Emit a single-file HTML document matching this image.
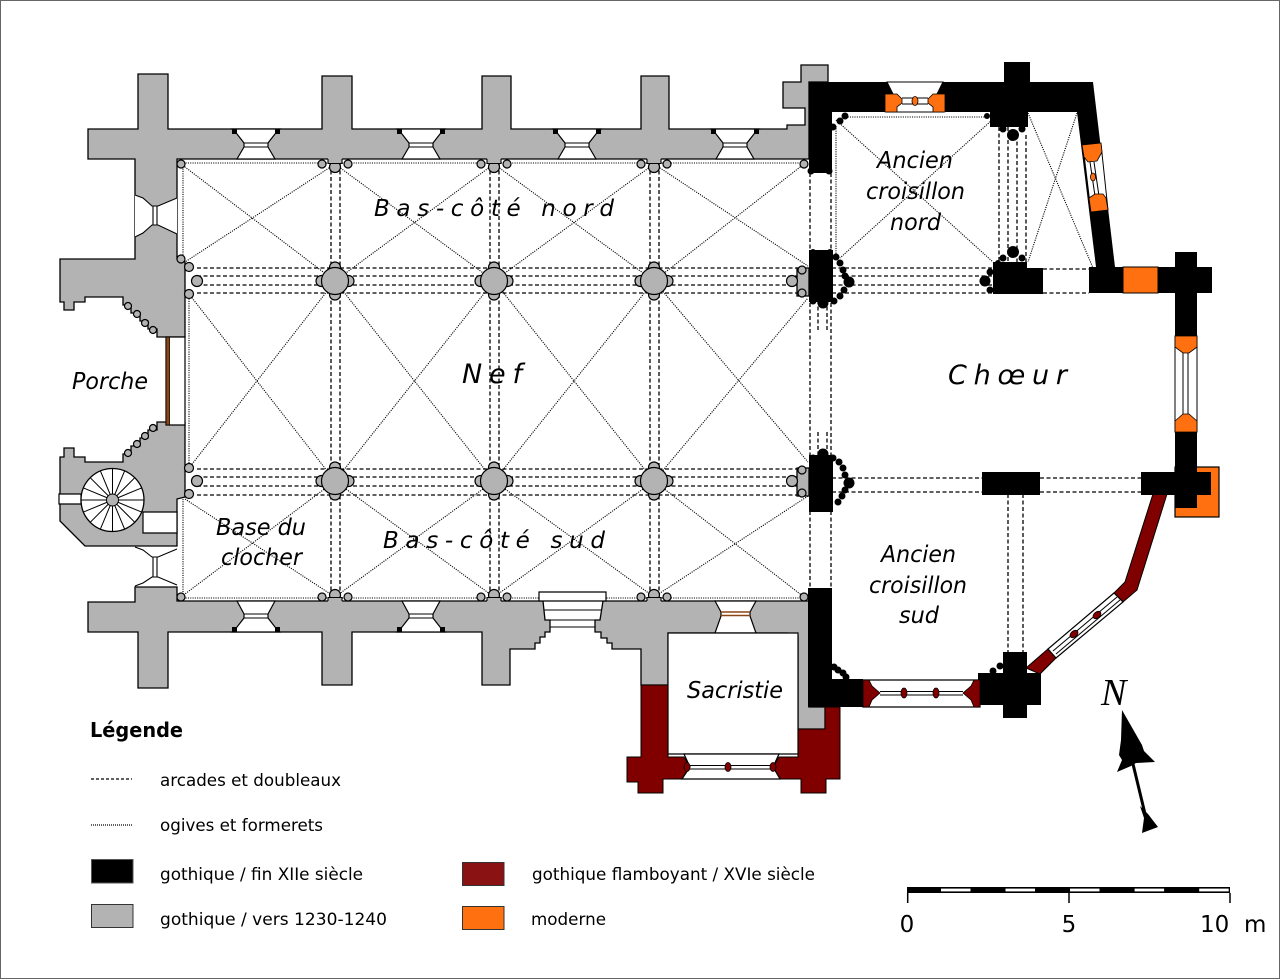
<!DOCTYPE html>
<html><head><meta charset="utf-8"><style>html,body{margin:0;padding:0;background:#fff}svg{display:block}</style></head>
<body>
<svg width="1280" height="979" viewBox="0 0 1280 979" xmlns="http://www.w3.org/2000/svg">
<rect x="0.5" y="0.5" width="1279" height="978" fill="#fff" stroke="#666" stroke-width="1"/>

<path fill="none" stroke="#000" stroke-width="1.1" stroke-dasharray="1.1 1.2" d="
M181,164 L335,281 M335,164 L185,262
M335,164 L494,281 M494,164 L335,281
M494,164 L654,281 M654,164 L494,281
M654,164 L808,266 M804,164 L654,281
M189,294 L335,481 M189,468 L335,281
M335,281 L494,481 M335,481 L494,281
M494,281 L654,481 M494,481 L654,281
M654,281 L808,462 M654,481 L808,298
M185,499 L335,597 M335,481 L181,597
M335,481 L494,597 M494,481 L335,597
M494,481 L654,597 M654,481 L494,597
M654,481 L804,597 M808,496 L654,597
M181,163 L808,163 M181,598 L808,598 M183,164 L183,259 M189,294 L189,468 M183,499 L183,597
M836,120 L993,262 M992,120 L840,258 M843,117 L988,117 M836,126 L836,258
M1028,113 L1093,268 M1077,113 L1028,262"/>

<path fill="none" stroke="#000" stroke-width="1.3" stroke-dasharray="4 2.5" d="
M197,268 L797,268 M197,276 L797,276 M197,285 L797,285 M197,293 L797,293
M197,469 L797,469 M197,477 L797,477 M197,486 L797,486 M197,495 L797,495
M331,164 L331,597 M340,164 L340,597 M490,164 L490,597 M499,164 L499,597 M650,164 L650,597 M659,164 L659,597
M810,160 L810,597 M831,160 L831,597
M818,300 L818,330 M827,300 L827,330 M818,432 L818,462 M827,432 L827,462
M832,268 L993,268 M832,276 L993,276 M832,285 L993,285 M832,293 L993,293
M1043,269 L1089,269 M1043,293 L1089,293
M832,478 L982,478 M832,492 L982,492 M1040,478 L1141,478 M1040,492 L1141,492
M999,127 L999,262 M1008,127 L1008,262 M1017,135 L1017,262 M1026,135 L1026,262
M1008,494 L1008,652 M1023,494 L1023,652"/>

<g fill="#b3b3b3" stroke="#000" stroke-width="1.3" stroke-linejoin="miter">
<path d="M88,129 L138,129 L138,74 L168,74 L168,129 L322,129 L322,76 L352,76 L352,129 L482,129 L482,76 L511,76 L511,129 L641,129 L641,76 L669,76 L669,129 L787,129 L787,125 L805,125 L805,108 L783,108 L783,82 L801,82 L801,65 L828,65 L828,82 L809,82 L809,159 L177,159 L177,259 L185,262 L185,337 L157,337 L157,329 L148,329 L148,321 L140,321 L140,313 L131,313 L131,305 L123,305 L123,297 L85,297 L85,302 L74,302 L74,310 L64,310 L64,302 L60,302 L60,259 L135,259 L135,159 L88,159 Z"/>
<path d="M165,422 L185,422 L185,497 L177,499 L177,546 L85,546 L60,521 L60,457 L64,457 L64,448 L74,448 L74,457 L85,457 L85,462 L123,462 L123,454 L131,454 L131,446 L140,446 L140,438 L148,438 L148,430 L157,430 L157,422 Z"/>
<path d="M177,601 L543,601 L545,620 L550,620 L550,632 L545,632 L545,637 L540,637 L540,643 L535,643 L535,649 L510,649 L510,685 L482,685 L482,632 L352,632 L352,685 L322,685 L322,632 L168,632 L168,688 L138,688 L138,632 L88,632 L88,602 L135,602 L135,587 L177,587 Z"/>
<path d="M603,601 L809,601 L809,707 L825,707 L825,729 L798,729 L798,636 L787,636 L787,633 L668,633 L668,685 L641,685 L641,649 L612,649 L612,643 L607,643 L607,638 L601,638 L601,632 L595,632 L595,620 L600,620 Z"/>
<rect x="797" y="268" width="12" height="28"/>
<rect x="797" y="468" width="12" height="28"/>
</g>

<g fill="#800000" stroke="#000" stroke-width="1">
<path d="M641,685 L668,685 L668,757 L684,757 L690,767 L682,779 L663,779 L663,793 L638,793 L638,782 L627,782 L627,757 L641,757 Z"/>
<path d="M825,707 L840,707 L840,779 L826,779 L826,793 L801,793 L801,779 L780,779 L773,767 L779,757 L798,757 L798,729 L825,729 Z"/>
<path d="M1153,494 L1167,494 L1137,590 L1123,602 L1114,593 L1125,582 Z"/>
<path d="M1026,668 L1048,649 L1056,658 L1040,674 Z"/>
</g>

<rect x="1175" y="467" width="44" height="50" fill="#ff7010" stroke="#000" stroke-width="1.2"/>

<g fill="#000">
<path d="M809,82 L1004,82 L1004,62 L1030,62 L1030,82 L1093,82 L1115,267 L1175,267 L1175,252 L1197,252 L1197,267 L1212,267 L1212,293 L1197,293 L1197,472 L1211,472 L1211,495 L1197,495 L1197,508 L1175,508 L1175,495 L1141,495 L1141,472 L1175,472 L1175,293 L1089,293 L1089,267 L1096,267 L1077,112 L1028,112 L1028,127 L990,127 L990,112 L832,112 L832,173 L809,173 Z"/>
<rect x="809" y="250" width="24" height="52"/>
<circle cx="813" cy="252" r="3"/><circle cx="830" cy="252" r="3"/><circle cx="836" cy="257" r="3.5"/><circle cx="840" cy="263" r="3.5"/><circle cx="843" cy="270" r="3.5"/><circle cx="849" cy="282" r="5.5"/><circle cx="844" cy="290" r="3.5"/><circle cx="840" cy="296" r="3.5"/><circle cx="834" cy="301" r="3.5"/><circle cx="823" cy="303" r="5.5"/><circle cx="813" cy="301" r="3.5"/><circle cx="845" cy="276" r="3.5"/>
<rect x="809" y="455" width="24" height="57"/>
<circle cx="823" cy="454" r="5.5"/><circle cx="813" cy="458" r="3.5"/><circle cx="833" cy="458" r="3.5"/><circle cx="839" cy="462" r="3.5"/><circle cx="843" cy="468" r="3.5"/><circle cx="845" cy="475" r="3.5"/><circle cx="849" cy="483" r="5.5"/><circle cx="845" cy="490" r="3.5"/><circle cx="842" cy="496" r="3.5"/><circle cx="838" cy="502" r="3.5"/><circle cx="812" cy="509" r="3"/><circle cx="829" cy="509" r="3"/>
<path d="M993,262 L1027,262 L1027,268 L1043,268 L1043,294 L993,294 Z"/>
<circle cx="1013" cy="252" r="6"/><circle cx="1003" cy="258" r="3.5"/><circle cx="1022" cy="258" r="3.5"/><circle cx="998" cy="263" r="3"/><circle cx="985" cy="281" r="5.5"/><circle cx="990" cy="272" r="3.5"/><circle cx="990" cy="290" r="3.5"/>
<circle cx="1013" cy="135" r="6"/><circle cx="987" cy="116" r="3"/><circle cx="995" cy="123" r="3.5"/><circle cx="1003" cy="129" r="3.5"/><circle cx="1022" cy="129" r="3.5"/>
<circle cx="833" cy="127" r="3.5"/><circle cx="840" cy="121" r="3.5"/><circle cx="845" cy="116" r="3.5"/><circle cx="811" cy="171" r="3.5"/><circle cx="829" cy="171" r="3.5"/>
<rect x="982" y="472" width="58" height="23"/>
<path d="M808,588 L832,588 L832,679 L863,679 L863,707 L808,707 Z"/>
<circle cx="834" cy="667" r="3.5"/><circle cx="838" cy="670" r="3.5"/><circle cx="843" cy="673" r="3.5"/><circle cx="846" cy="677" r="3.5"/>
<rect x="1003" y="652" width="24" height="66"/>
<rect x="978" y="673" width="63" height="32"/>
<circle cx="988" cy="677" r="3.5"/><circle cx="993" cy="671" r="3.5"/><circle cx="1000" cy="666" r="3.5"/>
</g>

<rect x="1123" y="267" width="35" height="26" fill="#ff7010" stroke="#000" stroke-width="1"/>

<g fill="#fff" stroke="#000" stroke-width="1.2">
<path d="M232,129 L280,129 L275,134 L268,143 L268,147 L275,159 L237,159 L244,147 L244,143 L237,134 Z"/>
<path d="M397,129 L445,129 L440,134 L433,143 L433,147 L440,159 L402,159 L409,147 L409,143 L402,134 Z"/>
<path d="M553,129 L601,129 L596,134 L589,143 L589,147 L596,159 L558,159 L565,147 L565,143 L558,134 Z"/>
<path d="M711,129 L759,129 L754,134 L747,143 L747,147 L754,159 L716,159 L723,147 L723,143 L716,134 Z"/>
<path d="M237,601 L275,601 L268,614 L268,618 L275,627 L280,632 L232,632 L237,627 L244,618 L244,614 Z"/>
<path d="M402,601 L440,601 L433,614 L433,618 L440,627 L445,632 L397,632 L402,627 L409,618 L409,614 Z"/>
<path d="M715,601 L756,601 L750,612 L750,616 L756,633 L715,633 L721,616 L721,612 Z"/>
<path d="M539,592 L606,592 L606,601 L539,601 Z"/>
<path d="M668,633 L798,633 L798,754 L668,754 Z"/>
<path d="M684,754 L779,754 L773,767 L780,779 L682,779 L690,767 Z"/>
<path d="M863,680 L980,680 L980,707 L863,707 Z"/>
<path d="M1048,649 L1114,593 L1123,602 L1056,658 Z"/>
<path d="M166,337 L185,337 L185,425 L166,425 Z"/>
<path d="M143,512 L177,512 L177,533 L143,533 Z"/>
<path d="M59,494 L81,494 L81,504 L59,504 Z"/>
</g>
<rect x="166" y="337" width="3.5" height="88" fill="#8b4513" stroke="#000" stroke-width="0.8"/>
<g fill="none" stroke="#000" stroke-width="1">
<path d="M244,143 L268,143 M244,147 L268,147 M409,143 L433,143 M409,147 L433,147 M565,143 L589,143 M565,147 L589,147 M723,143 L747,143 M723,147 L747,147 M244,614 L268,614 M244,618 L268,618 M409,614 L433,614 M409,618 L433,618"/>
<path d="M544,610 L602,610 M545,620 L600,620 M550,627 L595,627"/>
<path d="M690,765.5 L773,765.5 M690,769 L773,769"/>
<path d="M880,691.5 L963,691.5 M880,695 L963,695"/>
<path d="M1053,651 L1117,597 M1056,654 L1120,600"/>
</g>
<path d="M721,612 L750,612 M721,615.5 L750,615.5" stroke="#8b4513" stroke-width="1.5"/>
<g fill="#000">
<rect x="232" y="129" width="5" height="5"/><rect x="275" y="129" width="5" height="5"/>
<rect x="397" y="129" width="5" height="5"/><rect x="440" y="129" width="5" height="5"/>
<rect x="553" y="129" width="5" height="5"/><rect x="596" y="129" width="5" height="5"/>
<rect x="711" y="129" width="5" height="5"/><rect x="754" y="129" width="5" height="5"/>
<rect x="232" y="627" width="5" height="5"/><rect x="275" y="627" width="5" height="5"/>
<rect x="397" y="627" width="5" height="5"/><rect x="440" y="627" width="5" height="5"/>
</g>

<path d="M135,195 L143,198 L152,206 L158,206 L177,198 L177,234 L158,225 L152,225 L143,233 L135,237 Z" fill="#fff"/>
<path d="M135,195 L143,198 L152,206 L158,206 L177,198 M135,237 L143,233 L152,225 L158,225 L177,234 M153,206 L153,225 M157,206 L157,225" fill="none" stroke="#000" stroke-width="1.1"/>
<path d="M135,547 L143,550 L152,557 L158,557 L177,549 M135,586 L143,583 L152,577 L158,577 L177,585 M153,557 L153,577 M157,557 L157,577" fill="none" stroke="#000" stroke-width="1.1"/>

<g fill="#800000" stroke="#000" stroke-width="0.8">
<path d="M863,680 L869,680 L872,686 L880,693 L872,700 L869,707 L863,707 Z"/>
<path d="M980,680 L974,680 L971,686 L963,693 L971,700 L974,707 L980,707 Z"/>
<ellipse cx="904" cy="693" rx="3" ry="5"/><ellipse cx="936" cy="693" rx="3" ry="5"/>
<ellipse cx="687" cy="767" rx="3" ry="4.5"/><ellipse cx="728" cy="767" rx="3" ry="4.5"/><ellipse cx="773" cy="767" rx="3" ry="4.5"/>
<ellipse cx="1074" cy="634" rx="3" ry="4.5" transform="rotate(50 1074 634)"/><ellipse cx="1097" cy="615" rx="3" ry="4.5" transform="rotate(50 1097 615)"/>
</g>

<path d="M887,82 L943,82 L937,94 L937,105 L943,112 L887,112 L893,105 L893,94 Z" fill="#fff" stroke="#000" stroke-width="1"/>
<g fill="#ff7010" stroke="#000" stroke-width="0.8">
<path d="M885,94 L897,94 L902,99 L902,103 L897,107 L897,112 L885,112 Z"/>
<path d="M945,94 L933,94 L928,99 L928,103 L933,107 L933,112 L945,112 Z"/>
<ellipse cx="915" cy="101" rx="3" ry="4.5"/>
</g>
<path d="M902,98 L913,98 M917,98 L928,98 M902,104 L913,104 M917,104 L928,104" stroke="#000" stroke-width="1"/>
<path d="M1083,146 L1101,144 L1108,210 L1091,212 Z" fill="#fff" stroke="#000" stroke-width="1"/>
<path d="M1090,162 L1095,196 M1094,162 L1099,196" stroke="#000" stroke-width="1"/>
<g fill="#ff7010" stroke="#000" stroke-width="0.8">
<path d="M1082,145 L1101,143 L1102,152 L1097,161 L1088,162 L1084,157 Z"/>
<path d="M1089,198 L1095,194 L1103,194 L1106,198 L1108,210 L1091,212 Z"/>
<ellipse cx="1093" cy="177" rx="2.5" ry="4"/>
</g>
<rect x="1175" y="336" width="22" height="96" fill="#fff" stroke="#000" stroke-width="1"/>
<path d="M1183,353 L1183,414 M1188,353 L1188,414" stroke="#000" stroke-width="1"/>
<g fill="#ff7010" stroke="#000" stroke-width="0.8">
<path d="M1175,336 L1197,336 L1197,347 L1189,353 L1183,353 L1175,347 Z"/>
<path d="M1175,432 L1197,432 L1197,421 L1189,414 L1183,414 L1175,421 Z"/>
</g>

<circle cx="112.5" cy="500" r="31.5" fill="#fff" stroke="#000" stroke-width="1.3"/>
<path fill="none" stroke="#000" stroke-width="1" d="M112.5,500 L144,500 M112.5,500 L141.6,512.1 M112.5,500 L134.8,522.3 M112.5,500 L124.6,529.1 M112.5,500 L112.5,531.5 M112.5,500 L100.4,529.1 M112.5,500 L90.2,522.3 M112.5,500 L83.4,512.1 M112.5,500 L81,500 M112.5,500 L83.4,487.9 M112.5,500 L90.2,477.7 M112.5,500 L100.4,470.9 M112.5,500 L112.5,468.5 M112.5,500 L124.6,470.9 M112.5,500 L134.8,477.7 M112.5,500 L141.6,487.9"/>
<circle cx="112.5" cy="500" r="6" fill="#b3b3b3" stroke="#000" stroke-width="1"/>

<g fill="#b3b3b3" stroke="#000" stroke-width="1.2">
<circle cx="128" cy="306" r="3.5"/><circle cx="137" cy="314" r="3.5"/><circle cx="145" cy="323" r="3.5"/><circle cx="153" cy="330" r="3.5"/>
<circle cx="128" cy="453" r="3.5"/><circle cx="137" cy="444" r="3.5"/><circle cx="145" cy="436" r="3.5"/><circle cx="153" cy="428" r="3.5"/>
<circle cx="181" cy="164" r="4"/><circle cx="181" cy="259" r="4"/><circle cx="189" cy="267" r="4.5"/><circle cx="197" cy="281" r="5.5"/><circle cx="189" cy="294" r="4.5"/>
<circle cx="189" cy="468" r="4.5"/><circle cx="197" cy="481" r="5.5"/><circle cx="189" cy="494" r="4.5"/><circle cx="181" cy="597" r="4"/>
<circle cx="804" cy="164" r="4"/><circle cx="804" cy="597" r="4"/>
<circle cx="792" cy="281" r="5.5"/><circle cx="802" cy="270" r="4"/><circle cx="802" cy="293" r="4"/>
<circle cx="792" cy="481" r="5.5"/><circle cx="802" cy="470" r="4"/><circle cx="802" cy="493" r="4"/>
<circle cx="335" cy="167" r="5.5"/><circle cx="322" cy="164" r="4"/><circle cx="348" cy="164" r="4"/>
<circle cx="494" cy="167" r="5.5"/><circle cx="481" cy="164" r="4"/><circle cx="507" cy="164" r="4"/>
<circle cx="654" cy="167" r="5.5"/><circle cx="641" cy="164" r="4"/><circle cx="667" cy="164" r="4"/>
<circle cx="335" cy="595" r="5.5"/><circle cx="322" cy="597" r="4"/><circle cx="348" cy="597" r="4"/>
<circle cx="494" cy="595" r="5.5"/><circle cx="481" cy="597" r="4"/><circle cx="507" cy="597" r="4"/>
<circle cx="654" cy="595" r="5.5"/><circle cx="641" cy="597" r="4"/><circle cx="667" cy="597" r="4"/>
<circle cx="321.5" cy="281" r="5.5"/><circle cx="348.5" cy="281" r="5.5"/><circle cx="335" cy="267.5" r="5.5"/><circle cx="335" cy="294.5" r="5.5"/>
<circle cx="480.5" cy="281" r="5.5"/><circle cx="507.5" cy="281" r="5.5"/><circle cx="494" cy="267.5" r="5.5"/><circle cx="494" cy="294.5" r="5.5"/>
<circle cx="640.5" cy="281" r="5.5"/><circle cx="667.5" cy="281" r="5.5"/><circle cx="654" cy="267.5" r="5.5"/><circle cx="654" cy="294.5" r="5.5"/>
<circle cx="321.5" cy="481" r="5.5"/><circle cx="348.5" cy="481" r="5.5"/><circle cx="335" cy="467.5" r="5.5"/><circle cx="335" cy="494.5" r="5.5"/>
<circle cx="480.5" cy="481" r="5.5"/><circle cx="507.5" cy="481" r="5.5"/><circle cx="494" cy="467.5" r="5.5"/><circle cx="494" cy="494.5" r="5.5"/>
<circle cx="640.5" cy="481" r="5.5"/><circle cx="667.5" cy="481" r="5.5"/><circle cx="654" cy="467.5" r="5.5"/><circle cx="654" cy="494.5" r="5.5"/>
<circle cx="335" cy="281" r="13.5"/><circle cx="494" cy="281" r="13.5"/><circle cx="654" cy="281" r="13.5"/>
<circle cx="335" cy="481" r="13.5"/><circle cx="494" cy="481" r="13.5"/><circle cx="654" cy="481" r="13.5"/>
</g>
<g fill="#b3b3b3">
<rect x="328" y="157" width="14" height="6.5"/><rect x="487" y="157" width="14" height="6.5"/><rect x="647" y="157" width="14" height="6.5"/>
<rect x="328" y="597.5" width="14" height="6.5"/><rect x="487" y="597.5" width="14" height="6.5"/><rect x="647" y="597.5" width="14" height="6.5"/>
</g>
<path d="M328,159 L328,163.5 L342,163.5 L342,159 M487,159 L487,163.5 L501,163.5 L501,159 M647,159 L647,163.5 L661,163.5 L661,159 M328,601 L328,597.5 L342,597.5 L342,601 M487,601 L487,597.5 L501,597.5 L501,601 M647,601 L647,597.5 L661,597.5 L661,601" fill="none" stroke="#000" stroke-width="1.1"/>

<g font-family="'DejaVu Sans','Liberation Sans',sans-serif" font-style="italic" fill="#000">
<text x="374" y="216" font-size="23" textLength="240" lengthAdjust="spacing">Bas-côté nord</text>
<text x="462" y="383" font-size="27" textLength="60" lengthAdjust="spacing">Nef</text>
<text x="72" y="389" font-size="23" textLength="76" lengthAdjust="spacingAndGlyphs">Porche</text>
<text x="383" y="548" font-size="23" textLength="222" lengthAdjust="spacing">Bas-côté sud</text>
<text x="216" y="535" font-size="23" textLength="90" lengthAdjust="spacingAndGlyphs">Base du</text>
<text x="221" y="565" font-size="23" textLength="81" lengthAdjust="spacingAndGlyphs">clocher</text>
<text x="877" y="168" font-size="23" textLength="76" lengthAdjust="spacingAndGlyphs">Ancien</text>
<text x="866" y="199" font-size="23" textLength="99" lengthAdjust="spacingAndGlyphs">croisillon</text>
<text x="890" y="230" font-size="23" textLength="51" lengthAdjust="spacingAndGlyphs">nord</text>
<text x="948" y="384" font-size="27" textLength="119" lengthAdjust="spacing">Chœur</text>
<text x="881" y="562" font-size="23" textLength="75" lengthAdjust="spacingAndGlyphs">Ancien</text>
<text x="869" y="593" font-size="23" textLength="98" lengthAdjust="spacingAndGlyphs">croisillon</text>
<text x="899" y="623" font-size="23" textLength="40" lengthAdjust="spacingAndGlyphs">sud</text>
<text x="687" y="698" font-size="23" textLength="96" lengthAdjust="spacingAndGlyphs">Sacristie</text>
</g>

<g font-family="'DejaVu Sans','Liberation Sans',sans-serif" fill="#000">
<text x="90" y="737" font-size="20" font-weight="bold" textLength="93" lengthAdjust="spacingAndGlyphs">Légende</text>
<text x="160" y="786" font-size="17" textLength="181" lengthAdjust="spacingAndGlyphs">arcades et doubleaux</text>
<text x="160" y="831" font-size="17" textLength="163" lengthAdjust="spacingAndGlyphs">ogives et formerets</text>
<text x="160" y="880" font-size="17" textLength="203" lengthAdjust="spacingAndGlyphs">gothique / fin XIIe siècle</text>
<text x="160" y="925" font-size="17" textLength="227" lengthAdjust="spacingAndGlyphs">gothique / vers 1230-1240</text>
<text x="532" y="880" font-size="17" textLength="283" lengthAdjust="spacingAndGlyphs">gothique flamboyant / XVIe siècle</text>
<text x="531" y="925" font-size="17" textLength="75" lengthAdjust="spacingAndGlyphs">moderne</text>
</g>
<path d="M91,779 L132,779" stroke="#000" stroke-width="1.2" stroke-dasharray="3 2"/>
<path d="M91,825 L133,825" stroke="#000" stroke-width="1.2" stroke-dasharray="1 1"/>
<rect x="91.5" y="859.5" width="41.5" height="23.5" fill="#000" stroke="#555" stroke-width="1"/>
<rect x="91.5" y="904.5" width="41.5" height="23" fill="#b3b3b3" stroke="#333" stroke-width="1"/>
<rect x="462.5" y="862.5" width="41.5" height="23" fill="#8b1212" stroke="#333" stroke-width="1"/>
<rect x="462.5" y="906.5" width="41.5" height="23" fill="#ff7010" stroke="#333" stroke-width="1"/>

<rect x="907" y="887" width="323" height="6" fill="#000"/>
<g fill="#fff">
<rect x="941" y="888.6" width="29.5" height="2.8"/><rect x="1005.5" y="888.6" width="29.5" height="2.8"/><rect x="1070" y="888.6" width="29.5" height="2.8"/><rect x="1134.6" y="888.6" width="29.5" height="2.8"/><rect x="1199.2" y="888.6" width="29.5" height="2.8"/>
</g>
<path d="M907.7,893 L907.7,903 M1069,893 L1069,903 M1230,893 L1230,903" stroke="#000" stroke-width="1.5"/>
<g font-family="'DejaVu Sans','Liberation Sans',sans-serif" font-size="23" fill="#000">
<text x="907" y="932" text-anchor="middle">0</text>
<text x="1069" y="932" text-anchor="middle">5</text>
<text x="1200" y="932">10</text>
<text x="1244" y="932">m</text>
</g>

<text x="1101" y="705" font-family="'Liberation Serif',serif" font-style="italic" font-size="38" fill="#000">N</text>
<path d="M1122,710 L1142,745 L1144,751 L1155,762 L1136,763 L1131,766 L1117,772 L1122,760 L1119,755 L1121,740 Z" fill="#000"/>
<path d="M1133,764 L1146,818" stroke="#000" stroke-width="3"/>
<path d="M1140,806 L1148,814 L1158,827 L1142,833 L1144,818 Z" fill="#000"/>
</svg>
</body></html>
